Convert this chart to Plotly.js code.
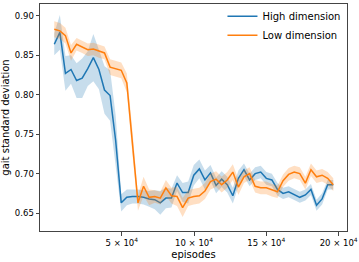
<!DOCTYPE html>
<html>
<head>
<meta charset="utf-8">
<script src="https://cdn.plot.ly/plotly-3.0.1.min.js"></script>
<style>html,body{margin:0;padding:0;background:#fff;}#chart{width:359px;height:262px;}</style>
</head>
<body>
<div id="chart"></div>
<script>
const episodes = [3300, 7160, 11020, 14880, 18740, 22600, 26460, 30320, 34180, 38040,
  41900, 45760, 49620, 53480, 57340, 61200, 65060, 68920, 72780, 76640,
  80500, 84360, 88220, 92080, 95940, 99800, 103660, 107520, 111380, 115240,
  119100, 122960, 126820, 130680, 134540, 138400, 142260, 146120, 149980, 153840,
  157700, 161560, 165420, 169280, 173140, 177000, 180860, 184720, 188580, 192440, 196300];

const highDim = [0.864, 0.879, 0.827, 0.832, 0.818, 0.821, 0.833, 0.847, 0.832, 0.806,
  0.799, 0.742, 0.663, 0.670, 0.671, 0.671, 0.670, 0.668, 0.667, 0.663,
  0.669, 0.669, 0.688, 0.676, 0.676, 0.698, 0.706, 0.692, 0.701, 0.685,
  0.693, 0.686, 0.672, 0.694, 0.705, 0.692, 0.700, 0.702, 0.694, 0.692,
  0.680, 0.675, 0.677, 0.673, 0.670, 0.673, 0.680, 0.660, 0.668, 0.686, 0.686];

const highDimErr = [0.014, 0.022, 0.022, 0.018, 0.022, 0.025, 0.022, 0.030, 0.025, 0.030,
  0.032, 0.032, 0.011, 0.010, 0.009, 0.009, 0.009, 0.010, 0.012, 0.015,
  0.013, 0.012, 0.010, 0.012, 0.014, 0.013, 0.012, 0.012, 0.010, 0.010,
  0.010, 0.010, 0.010, 0.010, 0.008, 0.008, 0.008, 0.008, 0.008, 0.008,
  0.008, 0.007, 0.007, 0.007, 0.007, 0.007, 0.007, 0.007, 0.007, 0.006, 0.006];

const lowDim = [0.883, 0.881, 0.875, 0.853, 0.864, 0.861, 0.857, 0.858, 0.855, 0.853,
  0.835, 0.833, 0.831, 0.815, 0.740, 0.663, 0.684, 0.670, 0.671, 0.669,
  0.682, 0.672, 0.671, 0.657, 0.669, 0.671, 0.672, 0.678, 0.690, 0.693,
  0.686, 0.692, 0.702, 0.683, 0.696, 0.700, 0.684, 0.682, 0.682, 0.679,
  0.677, 0.691, 0.699, 0.702, 0.700, 0.688, 0.705, 0.696, 0.698, 0.694, 0.686];

const lowDimErr = [0.010, 0.010, 0.010, 0.010, 0.008, 0.008, 0.008, 0.008, 0.008, 0.008,
  0.010, 0.010, 0.010, 0.012, 0.015, 0.010, 0.012, 0.010, 0.008, 0.008,
  0.010, 0.010, 0.012, 0.012, 0.010, 0.010, 0.010, 0.010, 0.010, 0.010,
  0.010, 0.010, 0.010, 0.010, 0.008, 0.008, 0.008, 0.008, 0.008, 0.008,
  0.008, 0.008, 0.008, 0.008, 0.008, 0.008, 0.008, 0.008, 0.008, 0.008, 0.008];

const seriesNames = ["High dimension", "Low dimension"];
const xTickVals = [50000, 100000, 150000, 200000];
const xTickText = ["5 × 10<sup>4</sup>", "10 × 10<sup>4</sup>", "15 × 10<sup>4</sup>", "20 × 10<sup>4</sup>"];
const yTickVals = [0.65, 0.70, 0.75, 0.80, 0.85, 0.90];

function band(x, y, e, color) {
  const up = y.map((v, i) => v + e[i]);
  const lo = y.map((v, i) => v - e[i]);
  return {
    x: x.concat(x.slice().reverse()),
    y: up.concat(lo.slice().reverse()),
    type: 'scatter', mode: 'lines', fill: 'toself',
    fillcolor: color, line: {width: 0}, showlegend: false, hoverinfo: 'skip'
  };
}

const data = [
  band(episodes, highDim, highDimErr, 'rgba(31,119,180,0.25)'),
  {x: episodes, y: highDim, type: 'scatter', mode: 'lines', name: seriesNames[0],
   line: {color: '#1f77b4', width: 1.5}},
  band(episodes, lowDim, lowDimErr, 'rgba(255,127,14,0.25)'),
  {x: episodes, y: lowDim, type: 'scatter', mode: 'lines', name: seriesNames[1],
   line: {color: '#ff7f0e', width: 1.5}}
];

const layout = {
  width: 359, height: 262,
  margin: {l: 40, r: 12, t: 3, b: 31, pad: 0},
  paper_bgcolor: '#fff', plot_bgcolor: '#fff',
  font: {family: 'DejaVu Sans', size: 8.5, color: '#000'},
  showlegend: true,
  legend: {x: 0.995, xanchor: 'right', y: 1.005, yanchor: 'top',
    font: {family: 'DejaVu Sans', size: 10, color: '#000'},
    bgcolor: 'rgba(0,0,0,0)', tracegroupgap: 0, itemwidth: 30},
  xaxis: {
    range: [-6580, 205800], tickvals: xTickVals, ticktext: xTickText,
    showgrid: false, zeroline: false, showline: true, mirror: true,
    linecolor: '#444', linewidth: 1, ticks: 'outside', ticklen: 3.5, tickcolor: '#444',
    tickfont: {size: 8.5},
    title: {text: 'episodes', font: {size: 10}, standoff: 4}
  },
  yaxis: {
    range: [0.6273, 0.915], tickvals: yTickVals, tickformat: '.2f',
    showgrid: false, zeroline: false, showline: true, mirror: true,
    linecolor: '#444', linewidth: 1, ticks: 'outside', ticklen: 3.5, tickcolor: '#444',
    tickfont: {size: 8.5},
    title: {text: 'gait standard deviation', font: {size: 10}, standoff: 6}
  }
};

Plotly.newPlot('chart', data, layout, {displayModeBar: false, staticPlot: true});
</script>
</body>
</html>
